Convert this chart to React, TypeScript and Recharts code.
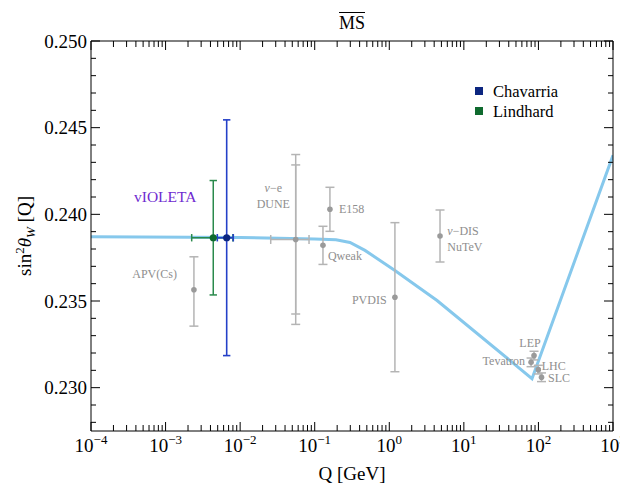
import React from 'react';
import { ComposedChart, Line, Scatter, XAxis, YAxis, ErrorBar, Customized } from 'recharts';

const FONT = "'Liberation Serif', 'Times New Roman', serif";

// ---------- Theory curve (MS-bar running) ----------
const theoryQ = [0.0001, 0.01, 0.1, 0.193, 0.297, 0.472, 1.19, 4.37, 82, 1000];
const theoryS = [0.2387, 0.23867, 0.23858, 0.23853, 0.23838, 0.23792, 0.23676, 0.23503, 0.23052, 0.24341];

// ---------- Existing / projected measurements ----------
const measNames = ['APV(Cs)', 'DUNE', 'E158', 'Qweak', 'PVDIS', 'NuTeV', 'LEP', 'Tevatron', 'LHC', 'SLC'];
const measQ = [0.0024, 0.0556, 0.16, 0.129, 1.19, 4.79, 87.3, 79.7, 99.6, 110];
const measS = [0.23565, 0.23855, 0.24029, 0.23821, 0.23522, 0.23875, 0.23185, 0.23146, 0.23104, 0.2306];
const measErrLow = [0.0021, 0.0043, 0.00127, 0.0011, 0.0043, 0.0015, 0.00025, 0.00025, 0.00025, 0.00025];
const measErrHigh = [0.0019, 0.0043, 0.00127, 0.0011, 0.0043, 0.0015, 0.00025, 0.00025, 0.00025, 0.00025];
const measLabelLines: Record<string, string[]> = {
  'APV(Cs)': ['APV(Cs)'],
  DUNE: ['ν−e', 'DUNE'],
  E158: ['E158'],
  Qweak: ['Qweak'],
  PVDIS: ['PVDIS'],
  NuTeV: ['ν−DIS', 'NuTeV'],
  LEP: ['LEP'],
  Tevatron: ['Tevatron'],
  LHC: ['LHC'],
  SLC: ['SLC'],
};

// DUNE outer error and Q range
const duneOuterErr = 0.0049;
const duneQLow = 0.0257;
const duneQHigh = 0.0839;

// ---------- vIOLETA projections ----------
const violetaGroup = 'vIOLETA';
const violetaNames = ['Lindhard', 'Chavarria'];
const violetaQ = [0.00436, 0.0066];
const violetaS = [0.23865, 0.23865];
const violetaErrS = [0.0033, 0.0068];
const violetaQLow = [0.00224, 0.00494];
const violetaQHigh = [0.0080, 0.00809];

// ---------- Axes ----------
const xMajorExp = [-4, -3, -2, -1, 0, 1, 2, 3];
const xMajorLabels = ['−4', '−3', '−2', '−1', '0', '1', '2', '3'];
const yMajorLabels = ['0.230', '0.235', '0.240', '0.245', '0.250'];
const yMajorValues = [0.23, 0.235, 0.24, 0.245, 0.25];
const yMinorThousandths = [228, 229, 230, 231, 232, 233, 234, 235, 236, 237, 238, 239, 240, 241, 242, 243, 244, 245, 246, 247, 248, 249, 250];

const xTicks: number[] = [];
xMajorExp.forEach((e) => {
  xTicks.push(Math.pow(10, e));
  if (e < 3) for (let k = 2; k <= 9; k++) xTicks.push(k * Math.pow(10, e));
});
const yTicks = yMinorThousandths.map((t) => t / 1000);

// ---------- Style maps (label placement, not data) ----------
const labelPlace: Record<string, { dx: number; dy: number[]; anchor: string }> = {
  'APV(Cs)': { dx: -17, dy: [-11.6], anchor: 'end' },
  DUNE: { dx: -22.4, dy: [-47.3, -31.7], anchor: 'middle' },
  E158: { dx: 9, dy: [3.3], anchor: 'start' },
  Qweak: { dx: 5, dy: [15], anchor: 'start' },
  PVDIS: { dx: -8.3, dy: [7.3], anchor: 'end' },
  NuTeV: { dx: 7.3, dy: [-1.4, 15.3], anchor: 'start' },
  LEP: { dx: -4, dy: [-8.4], anchor: 'middle' },
  Tevatron: { dx: -6, dy: [2.6], anchor: 'end' },
  LHC: { dx: 3.4, dy: [0.3], anchor: 'start' },
  SLC: { dx: 6.6, dy: [4.5], anchor: 'start' },
};

const COL_THEORY = '#86c8ec';
const COL_GRAY_BAR = '#b4b4b4';
const COL_GRAY_DOT = '#9a9a9a';
const COL_GRAY_TXT = '#8e8e8e';
const COL_GREEN_BAR = '#2a8a4c';
const COL_GREEN_DOT = '#0f6a2e';
const COL_BLUE_BAR = '#2440c8';
const COL_BLUE_DOT = '#0c2680';
const COL_PURPLE = '#6f2bd0';

// ---------- Build series ----------
const theory = theoryQ.map((q, i) => ({ q, s: theoryS[i] }));
const meas = measNames.map((name, i) => ({
  name,
  q: measQ[i],
  s: measS[i],
  ey: [measErrLow[i], measErrHigh[i]],
}));
const duneIdx = measNames.indexOf('DUNE');
const duneExtra = [
  {
    name: 'DUNE',
    q: measQ[duneIdx],
    s: measS[duneIdx],
    ey: duneOuterErr,
    ex: [measQ[duneIdx] - duneQLow, duneQHigh - measQ[duneIdx]],
  },
];
const violeta = violetaNames.map((name, i) => ({
  name,
  q: violetaQ[i],
  s: violetaS[i],
  ey: violetaErrS[i],
  ex: [violetaQ[i] - violetaQLow[i], violetaQHigh[i] - violetaQ[i]],
}));

const isMajorX = (v: number) => {
  const e = Math.log10(v);
  return Math.abs(e - Math.round(e)) < 1e-6;
};
const isMajorY = (v: number) => Math.round(v * 1000) % 5 === 0;

const XTickBottom = (props: any) => {
  const { x, y, payload } = props;
  const v = payload.value;
  const major = isMajorX(v);
  const idx = xMajorExp.indexOf(Math.round(Math.log10(v)));
  return (
    <g>
      <line x1={x} y1={y} x2={x} y2={y - (major ? 9 : 6)} stroke="#000" strokeWidth={1} />
      {major && (
        <text x={x} y={y + 21} textAnchor="middle" fontFamily={FONT} fontSize={19} fill="#000">
          <tspan>10</tspan>
          <tspan dy={-8} fontSize={13}>
            {xMajorLabels[idx]}
          </tspan>
        </text>
      )}
    </g>
  );
};

const XTickTop = (props: any) => {
  const { x, y, payload } = props;
  const major = isMajorX(payload.value);
  return <line x1={x} y1={y} x2={x} y2={y + (major ? 9 : 6)} stroke="#000" strokeWidth={1} />;
};

const YTickLeft = (props: any) => {
  const { x, y, payload } = props;
  const v = payload.value;
  const major = isMajorY(v);
  const idx = yMajorValues.findIndex((m) => Math.abs(m - v) < 1e-9);
  return (
    <g>
      <line x1={x} y1={y} x2={x + (major ? 9 : 5)} y2={y} stroke="#000" strokeWidth={1} />
      {major && idx >= 0 && (
        <text x={x - 4} y={y + 6.5} textAnchor="end" fontFamily={FONT} fontSize={19} fill="#000">
          {yMajorLabels[idx]}
        </text>
      )}
    </g>
  );
};

const YTickRight = (props: any) => {
  const { x, y, payload } = props;
  const major = isMajorY(payload.value);
  return <line x1={x} y1={y} x2={x - (major ? 9 : 5)} y2={y} stroke="#000" strokeWidth={1} />;
};

const renderLabelText = (ln: string) => {
  if (ln.startsWith('ν')) {
    return (
      <>
        <tspan fontStyle="italic">ν</tspan>
        <tspan>{ln.slice(1)}</tspan>
      </>
    );
  }
  return ln;
};

const MeasShape = (p: any) => {
  const { cx, cy, payload } = p;
  const place = labelPlace[payload.name];
  const lines = measLabelLines[payload.name] ?? [payload.name];
  return (
    <g>
      <circle cx={cx} cy={cy} r={2.8} fill={COL_GRAY_DOT} />
      {place &&
        lines.map((ln, i) => (
          <text
            key={i}
            x={cx + place.dx}
            y={cy + place.dy[i]}
            textAnchor={place.anchor as any}
            fontFamily={FONT}
            fontSize={12}
            fill={COL_GRAY_TXT}
          >
            {renderLabelText(ln)}
          </text>
        ))}
    </g>
  );
};

const EmptyShape = () => <g />;

const LindhardShape = (p: any) => {
  const { cx, cy } = p;
  return (
    <g>
      <circle cx={cx} cy={cy} r={3.6} fill={COL_GREEN_DOT} />
      <text x={cx - 48} y={cy - 35.6} textAnchor="middle" fontFamily={FONT} fontSize={15.5} fill={COL_PURPLE}>
        {violetaGroup}
      </text>
    </g>
  );
};

const ChavarriaShape = (p: any) => {
  const { cx, cy } = p;
  return <circle cx={cx} cy={cy} r={3.6} fill={COL_BLUE_DOT} />;
};

const Decorations = () => (
  <g>
    {/* title */}
    <text x={352} y={29} textAnchor="middle" fontFamily={FONT} fontSize={18} fill="#000">
      MS
    </text>
    <line x1={339} y1={12.5} x2={365} y2={12.5} stroke="#000" strokeWidth={1} />
    {/* y label */}
    <text transform="translate(31,236) rotate(-90)" textAnchor="middle" fontFamily={FONT} fontSize={19} fill="#000">
      <tspan>sin</tspan>
      <tspan dy={-7} fontSize={13}>
        2
      </tspan>
      <tspan dy={7} fontStyle="italic">
        θ
      </tspan>
      <tspan dy={4} fontSize={13} fontStyle="italic">
        W
      </tspan>
      <tspan dy={-4}> [Q]</tspan>
    </text>
    {/* x label */}
    <text x={352} y={480} textAnchor="middle" fontFamily={FONT} fontSize={19} fill="#000">
      Q [GeV]
    </text>
    {/* legend */}
    <rect x={475} y={87} width={8} height={8} fill={COL_BLUE_DOT} />
    <text x={493} y={96.5} fontFamily={FONT} fontSize={16.5} fill="#000">
      {violetaNames[1]}
    </text>
    <rect x={475} y={107} width={8} height={8} fill={COL_GREEN_DOT} />
    <text x={493} y={116.5} fontFamily={FONT} fontSize={16.5} fill="#000">
      {violetaNames[0]}
    </text>
  </g>
);

export default function App() {
  return (
    <div style={{ position: 'absolute', left: 0, top: 0, width: 620, height: 486, background: '#fff' }}>
      <ComposedChart width={620} height={486} margin={{ top: 40, right: 6, bottom: 54, left: 90 }}>
        <XAxis
          xAxisId="b"
          dataKey="q"
          type="number"
          scale="log"
          domain={[1e-4, 1e3]}
          allowDataOverflow
          ticks={xTicks}
          interval={0}
          tickSize={0}
          tickMargin={0}
          tickLine={false}
          tick={XTickBottom}
          axisLine={{ stroke: '#000' }}
          height={1}
          orientation="bottom"
        />
        <XAxis
          xAxisId="t"
          dataKey="q"
          type="number"
          scale="log"
          domain={[1e-4, 1e3]}
          allowDataOverflow
          ticks={xTicks}
          interval={0}
          tickSize={0}
          tickMargin={0}
          tickLine={false}
          tick={XTickTop}
          axisLine={{ stroke: '#000' }}
          height={1}
          orientation="top"
        />
        <YAxis
          yAxisId="l"
          dataKey="s"
          type="number"
          domain={[0.2275, 0.25]}
          allowDataOverflow
          ticks={yTicks}
          interval={0}
          tickSize={0}
          tickMargin={0}
          tickLine={false}
          tick={YTickLeft}
          axisLine={{ stroke: '#000' }}
          width={1}
          orientation="left"
        />
        <YAxis
          yAxisId="r"
          dataKey="s"
          type="number"
          domain={[0.2275, 0.25]}
          allowDataOverflow
          ticks={yTicks}
          interval={0}
          tickSize={0}
          tickMargin={0}
          tickLine={false}
          tick={YTickRight}
          axisLine={{ stroke: '#000' }}
          width={1}
          orientation="right"
        />
        <Line
          xAxisId="b"
          yAxisId="l"
          data={theory}
          dataKey="s"
          type="linear"
          dot={false}
          activeDot={false}
          stroke={COL_THEORY}
          strokeWidth={3}
          isAnimationActive={false}
        />
        <Scatter xAxisId="b" yAxisId="l" data={duneExtra} shape={EmptyShape} isAnimationActive={false}>
          <ErrorBar dataKey="ey" direction="y" width={4.5} stroke={COL_GRAY_BAR} strokeWidth={1.5} isAnimationActive={false} />
          <ErrorBar dataKey="ex" direction="x" width={4.5} stroke={COL_GRAY_BAR} strokeWidth={1.5} isAnimationActive={false} />
        </Scatter>
        <Scatter xAxisId="b" yAxisId="l" data={meas} shape={MeasShape} isAnimationActive={false}>
          <ErrorBar dataKey="ey" direction="y" width={4.5} stroke={COL_GRAY_BAR} strokeWidth={1.5} isAnimationActive={false} />
        </Scatter>
        <Scatter xAxisId="b" yAxisId="l" data={[violeta[0]]} shape={LindhardShape} isAnimationActive={false}>
          <ErrorBar dataKey="ey" direction="y" width={3.7} stroke={COL_GREEN_BAR} strokeWidth={1.5} isAnimationActive={false} />
          <ErrorBar dataKey="ex" direction="x" width={3.7} stroke={COL_GREEN_BAR} strokeWidth={1.5} isAnimationActive={false} />
        </Scatter>
        <Scatter xAxisId="b" yAxisId="l" data={[violeta[1]]} shape={ChavarriaShape} isAnimationActive={false}>
          <ErrorBar dataKey="ey" direction="y" width={3.7} stroke={COL_BLUE_BAR} strokeWidth={1.6} isAnimationActive={false} />
          <ErrorBar dataKey="ex" direction="x" width={3.7} stroke={COL_BLUE_BAR} strokeWidth={1.6} isAnimationActive={false} />
        </Scatter>
        <Customized component={Decorations} />
      </ComposedChart>
    </div>
  );
}
